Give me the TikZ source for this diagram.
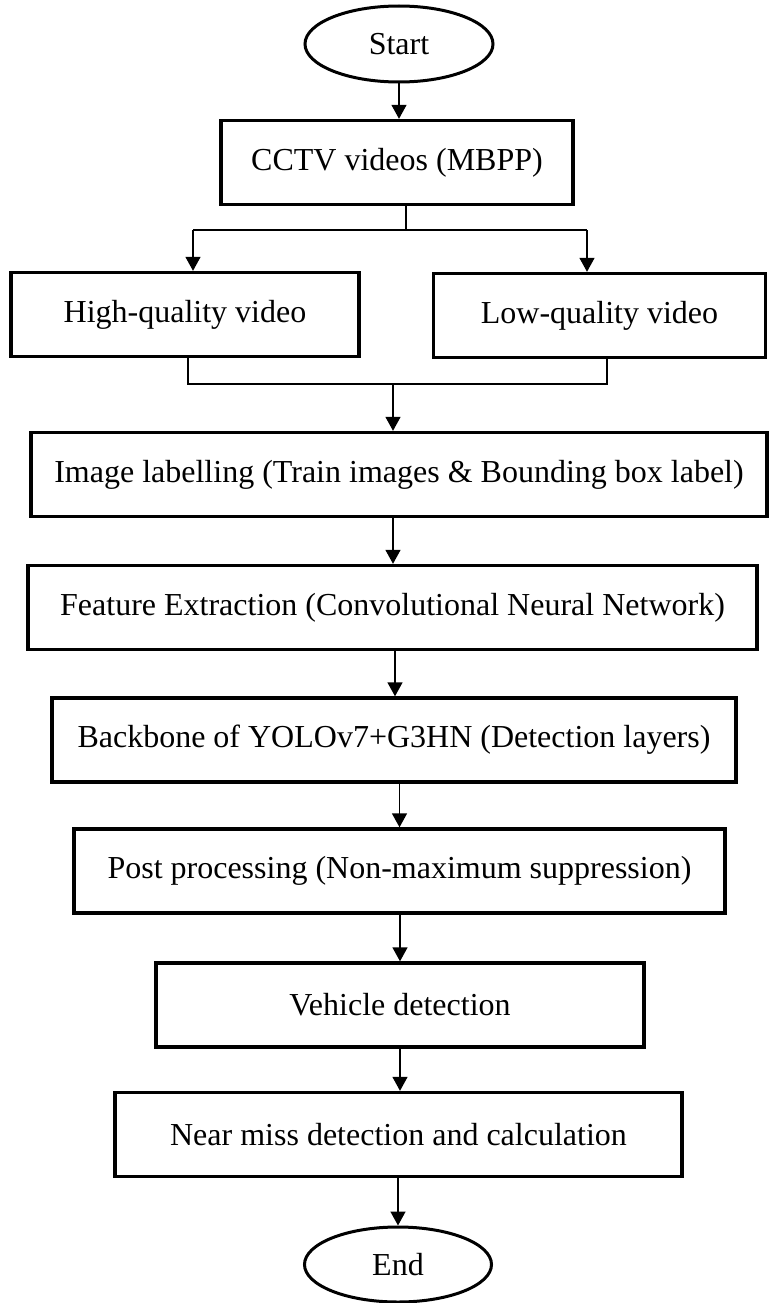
\documentclass[tikz,border=0pt]{standalone}
\usepackage{fontspec}
\setmainfont{Liberation Serif}
\usetikzlibrary{arrows.meta,shapes.geometric}

\tikzset{
  stepbox/.style={draw, line width=3.4pt, rectangle, minimum height=84pt,
    inner sep=0pt, font=\fontsize{32}{38}\selectfont},
  terminal/.style={draw, line width=3pt, ellipse, inner sep=0pt,
    font=\fontsize{32}{38}\selectfont},
  link/.style={line width=1.5pt},
  arr/.style={line width=1.5pt, -{Triangle[width=15pt,length=14pt]}},
}

\begin{document}
\begin{tikzpicture}[x=1pt, y=-1pt]
  \useasboundingbox (0,0) rectangle (769,1303);

  % process steps
  \node[terminal, minimum width=188pt, minimum height=76pt] (start) at (399,44) {Start};
  \node[stepbox, minimum width=352pt] (cctv) at (397,162.5) {CCTV videos (MBPP)};
  \node[stepbox, minimum width=348pt] (high) at (185,314.5) {High-quality video};
  \node[stepbox, minimum width=332pt] (low) at (599.5,315.5) {Low-quality video};
  \node[stepbox, minimum width=736pt] (label) at (399,474.5) {Image labelling (Train images \& Bounding box label)};
  \node[stepbox, minimum width=729pt] (feat) at (392.5,607.5) {Feature Extraction (Convolutional Neural Network)};
  \node[stepbox, minimum width=684pt] (bone) at (394,740) {Backbone of YOLOv7+G3HN (Detection layers)};
  \node[stepbox, minimum width=651pt] (post) at (399.5,871) {Post processing (Non-maximum suppression)};
  \node[stepbox, minimum width=488pt] (veh) at (400,1005) {Vehicle detection};
  \node[stepbox, minimum width=567pt] (near) at (398.5,1134.5) {Near miss detection and calculation};
  \node[terminal, minimum width=187pt, minimum height=75pt] (end) at (398,1264.5) {End};

  % split into the two video qualities
  \coordinate (split) at (406,230);
  \coordinate (sl) at (193,230);
  \coordinate (sr) at (587,230);
  % merge of the two branches
  \coordinate (ml) at (188,384);
  \coordinate (mr) at (607,384);
  \coordinate (mc) at (393,384);

  \draw[arr] (start.south) -- (start.south |- cctv.north);
  \draw[link] (split |- cctv.south) -- (split);
  \draw[link] (sl) -- (sr);
  \draw[arr] (sl) -- (sl |- high.north);
  \draw[arr] (sr) -- (sr |- low.north);

  \draw[link] (ml |- high.south) -- (ml) -- (mr) -- (mr |- low.south);
  \draw[arr] (mc) -- (mc |- label.north);

  \draw[arr] (label.south -| mc) -- (mc |- feat.north);
  \draw[arr] (395,650) coordinate (f1) (feat.south -| f1) -- (f1 |- bone.north);
  \draw[arr] (bone.south -| post.north) -- (post.north);
  \draw[arr] (post.south -| veh.north) -- (veh.north);
  \draw[arr] (veh.south) -- (veh.south |- near.north);
  \draw[arr] (near.south -| end.north) -- (end.north);
\end{tikzpicture}
\end{document}
